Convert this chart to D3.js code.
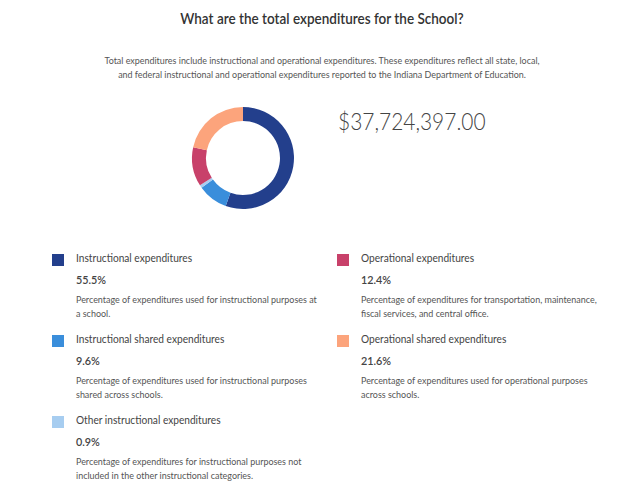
<!DOCTYPE html>
<html><head><meta charset="utf-8">
<script src="https://cdn.jsdelivr.net/npm/d3@7"></script>
<style>
body{margin:0;background:#fff;font-family:Lato,"Open Sans",sans-serif;}
</style></head>
<body>
<svg id="c" width="644" height="496"></svg>
<script>
const categories = ["Instructional expenditures","Instructional shared expenditures","Other instructional expenditures","Operational expenditures","Operational shared expenditures"];
const values = [55.5, 9.6, 0.9, 12.4, 21.6];
const colors = ["#233f8c","#3a8edb","#a7cdf0","#c8416a","#fca47c"];
const descriptions = [
  ["Percentage of expenditures used for instructional purposes at","a school."],
  ["Percentage of expenditures used for instructional purposes","shared across schools."],
  ["Percentage of expenditures for instructional purposes not","included in the other instructional categories."],
  ["Percentage of expenditures for transportation, maintenance,","fiscal services, and central office."],
  ["Percentage of expenditures used for operational purposes","across schools."]
];
const total = "$37,724,397.00";
const title = "What are the total expenditures for the School?";
const subtitle = ["Total expenditures include instructional and operational expenditures. These expenditures reflect all state, local,","and federal instructional and operational expenditures reported to the Indiana Department of Education."];

const svg = d3.select("#c");
function squeeze(sel, factor){
  sel.each(function(){
    const L = this.getComputedTextLength();
    d3.select(this).attr("textLength", L*factor).attr("lengthAdjust","spacingAndGlyphs");
  });
  return sel;
}
squeeze(svg.append("text").attr("x",322).attr("y",24).attr("text-anchor","middle")
  .attr("font-size",16).attr("font-weight",600).attr("fill","#333").text(title), 0.845);
subtitle.forEach((s,i)=>squeeze(svg.append("text").attr("x",322).attr("y",64+i*14).attr("text-anchor","middle")
  .attr("font-size",9.5).attr("fill","#555").text(s), 0.94));

const pie = d3.pie().sort(null).value(d=>d);
const arc = d3.arc().innerRadius(37).outerRadius(51);
const g = svg.append("g").attr("transform","translate(243,158)");
g.selectAll("path").data(pie(values)).join("path")
  .attr("d",arc).attr("fill",(d,i)=>colors[i]);

squeeze(svg.append("text").attr("x",338).attr("y",130).attr("font-size",22.5).attr("fill","#444")
  .attr("font-weight",300).text(total), 0.93);

const pos = [[0,0],[0,1],[0,2],[1,0],[1,1]];
const colX = [52,337];
categories.forEach((c,i)=>{
  const [col,row] = pos[i];
  const x = colX[col], y = 254 + row*81;
  const lg = svg.append("g");
  lg.append("rect").attr("x",x).attr("y",y).attr("width",12).attr("height",12).attr("fill",colors[i]);
  squeeze(lg.append("text").attr("x",x+24).attr("y",y+8).attr("font-size",10.8).attr("fill","#444").text(c), 0.94);
  squeeze(lg.append("text").attr("x",x+24).attr("y",y+30).attr("font-size",12).attr("font-weight",600).attr("fill","#444").text(values[i].toFixed(1)+"%"), 0.9);
  descriptions[i].forEach((d,j)=>squeeze(lg.append("text").attr("x",x+24).attr("y",y+48.5+j*14.5)
    .attr("font-size",9.4).attr("fill","#555").text(d), 0.955));
});
</script>
</body></html>
